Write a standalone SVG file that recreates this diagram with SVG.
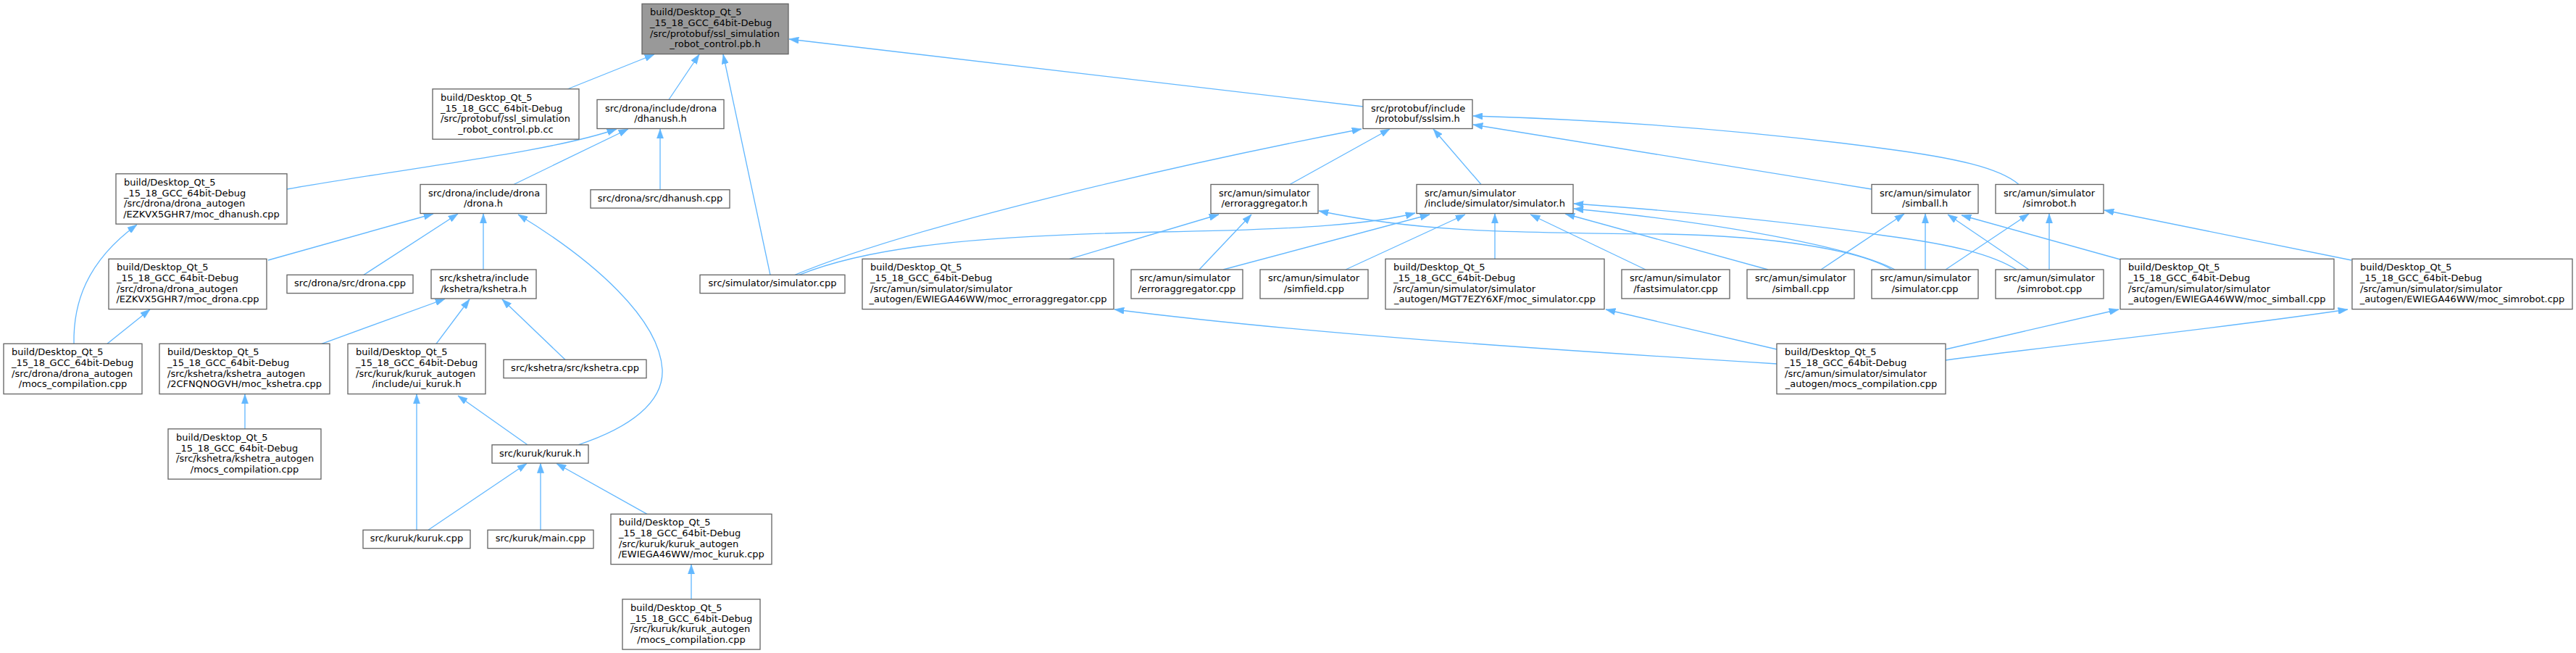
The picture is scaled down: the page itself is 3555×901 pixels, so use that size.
<svg xmlns="http://www.w3.org/2000/svg" width="3555" height="901" viewBox="0 0 3555 901">
<defs>
<style>
.n rect{fill:#ffffff;stroke:#666666;stroke-width:1.33}
.m rect{fill:#999999;stroke:#666666;stroke-width:1.33}
text{font-family:"DejaVu Sans","Liberation Sans",sans-serif;font-size:13px;fill:#000000}
.c{text-anchor:middle}
.e path{fill:none;stroke:#63b8ff;stroke-width:1.33;marker-end:url(#ah)}
</style>
<marker id="ah" markerUnits="userSpaceOnUse" viewBox="0 0 13.3 9.4" markerWidth="13.3" markerHeight="9.4" refX="13.3" refY="4.7" orient="auto">
<path d="M0,0 L13.3,4.7 L0,9.4 z" fill="#63b8ff" stroke="#63b8ff" stroke-width="0.5"/>
</marker>
</defs>
<rect x="0" y="0" width="3555" height="901" fill="#ffffff"/>

<g id="edges" class="e">
<path d="M783,123 L903,75"/>
<path d="M923,137.5 L965,75"/>
<path d="M1063,379.3 L998,75"/>
<path d="M1881,147 L1089,54"/>
<path d="M396,261 C560,232 760,210 851,178"/>
<path d="M709,254.5 L867,178"/>
<path d="M911,261.8 L911,178"/>
<path d="M370,359 L598,295"/>
<path d="M502,379.3 L632,295"/>
<path d="M667,372 L667,295"/>
<path d="M798,613.8 C870,590 916,555 914,510 C910,440 820,360 715,296"/>
<path d="M102,474.3 C101,420 118,362 189,310"/>
<path d="M148,474.3 L207,427"/>
<path d="M444,474.3 L614,412.5"/>
<path d="M602,474.3 L648,413"/>
<path d="M780,496.3 L693,413"/>
<path d="M338,591.8 L338,544"/>
<path d="M575,731.3 L575,544"/>
<path d="M728,613.8 L632,546"/>
<path d="M591,731.3 L727,639.5"/>
<path d="M746,731.3 L746,639.5"/>
<path d="M893,709.3 L768,639.5"/>
<path d="M954,826.8 L954,779"/>
<path d="M1097,379.3 C1250,315 1600,232 1879,178"/>
<path d="M1780,254.5 L1918,178"/>
<path d="M2044,254.5 L1978,178"/>
<path d="M2583,261 L2033,172"/>
<path d="M2786,254.5 C2760,232 2700,218 2600,205 C2400,178 2200,165 2033,160"/>
<path d="M1476,357.3 L1682,296"/>
<path d="M1655,372 L1727,296"/>
<path d="M2611,372 C2565,345 2450,326 2300,323 C2050,321 1950,318 1820,291"/>
<path d="M1103,379.3 C1200,340 1350,325 1600,320 C1800,317 1900,308 1953,294"/>
<path d="M1688,372 L1973,296"/>
<path d="M1857,372 L2022,296"/>
<path d="M2063,357.3 L2063,295"/>
<path d="M2271,372 L2112,296"/>
<path d="M2440,372 L2160,295"/>
<path d="M2615,372 C2565,345 2400,310 2172,288"/>
<path d="M2783,372 C2750,352 2700,338 2600,325 C2450,303 2300,290 2172,281"/>
<path d="M2452,502 C2100,480 1800,460 1538,427"/>
<path d="M2452,482 L2216,427"/>
<path d="M2685,482 L2924,427"/>
<path d="M2685,497 C2850,475 3050,455 3240,427"/>
<path d="M2513,372 L2628,295"/>
<path d="M2657,372 L2657,295"/>
<path d="M2800,372 L2688,296"/>
<path d="M2926,358 L2707,297"/>
<path d="M2685,372 L2800,295"/>
<path d="M2828,372 L2828,295"/>
<path d="M3245,359 L2904,290"/>
</g>

<g id="n_main" class="m"><rect x="886" y="5.3" width="202" height="69.3"/>
<text x="897" y="21.3">build/Desktop_Qt_5</text><text x="897" y="36">_15_18_GCC_64bit-Debug</text><text x="897" y="50.7">/src/protobuf/ssl_simulation</text><text class="c" x="987" y="65.3">_robot_control.pb.h</text></g>

<g id="n_pbcc" class="n"><rect x="597" y="122.8" width="202" height="69.3"/>
<text x="608" y="138.8">build/Desktop_Qt_5</text><text x="608" y="153.5">_15_18_GCC_64bit-Debug</text><text x="608" y="168.2">/src/protobuf/ssl_simulation</text><text class="c" x="698" y="182.8">_robot_control.pb.cc</text></g>

<g id="n_dhanush_h" class="n"><rect x="824" y="137.5" width="175" height="40"/>
<text x="835" y="153.5">src/drona/include/drona</text><text class="c" x="911.5" y="168.2">/dhanush.h</text></g>

<g id="n_sslsim_h" class="n"><rect x="1881" y="137.5" width="151" height="40"/>
<text x="1892" y="153.5">src/protobuf/include</text><text class="c" x="1956.5" y="168.2">/protobuf/sslsim.h</text></g>

<g id="n_moc_dhanush" class="n"><rect x="160" y="239.8" width="236" height="69.3"/>
<text x="171" y="255.8">build/Desktop_Qt_5</text><text x="171" y="270.5">_15_18_GCC_64bit-Debug</text><text x="171" y="285.2">/src/drona/drona_autogen</text><text class="c" x="278" y="299.8">/EZKVX5GHR7/moc_dhanush.cpp</text></g>

<g id="n_drona_h" class="n"><rect x="580" y="254.5" width="174" height="40"/>
<text x="591" y="270.5">src/drona/include/drona</text><text class="c" x="667" y="285.2">/drona.h</text></g>

<g id="n_dhanush_cpp" class="n"><rect x="815" y="261.8" width="192" height="25.3"/>
<text class="c" x="911" y="277.8">src/drona/src/dhanush.cpp</text></g>

<g id="n_erragg_h" class="n"><rect x="1671" y="254.5" width="148" height="40"/>
<text x="1682" y="270.5">src/amun/simulator</text><text class="c" x="1745" y="285.2">/erroraggregator.h</text></g>

<g id="n_simulator_h" class="n"><rect x="1955" y="254.5" width="216" height="40"/>
<text x="1966" y="270.5">src/amun/simulator</text><text class="c" x="2063" y="285.2">/include/simulator/simulator.h</text></g>

<g id="n_simball_h" class="n"><rect x="2583" y="254.5" width="147" height="40"/>
<text x="2594" y="270.5">src/amun/simulator</text><text class="c" x="2656.5" y="285.2">/simball.h</text></g>

<g id="n_simrobot_h" class="n"><rect x="2754" y="254.5" width="149" height="40"/>
<text x="2765" y="270.5">src/amun/simulator</text><text class="c" x="2828.5" y="285.2">/simrobot.h</text></g>

<g id="n_moc_drona" class="n"><rect x="150" y="357.3" width="218" height="69.3"/>
<text x="161" y="373.3">build/Desktop_Qt_5</text><text x="161" y="388">_15_18_GCC_64bit-Debug</text><text x="161" y="402.7">/src/drona/drona_autogen</text><text class="c" x="259" y="417.3">/EZKVX5GHR7/moc_drona.cpp</text></g>

<g id="n_drona_cpp" class="n"><rect x="396" y="379.3" width="174" height="25.3"/>
<text class="c" x="483" y="395.3">src/drona/src/drona.cpp</text></g>

<g id="n_kshetra_h" class="n"><rect x="595" y="372" width="145" height="40"/>
<text x="606" y="388">src/kshetra/include</text><text class="c" x="667.5" y="402.7">/kshetra/kshetra.h</text></g>

<g id="n_sim_cpp" class="n"><rect x="966" y="379.3" width="200" height="25.3"/>
<text class="c" x="1066" y="395.3">src/simulator/simulator.cpp</text></g>

<g id="n_moc_erragg" class="n"><rect x="1190" y="357.3" width="347" height="69.3"/>
<text x="1201" y="373.3">build/Desktop_Qt_5</text><text x="1201" y="388">_15_18_GCC_64bit-Debug</text><text x="1201" y="402.7">/src/amun/simulator/simulator</text><text class="c" x="1363.5" y="417.3">_autogen/EWIEGA46WW/moc_erroraggregator.cpp</text></g>

<g id="n_erragg_cpp" class="n"><rect x="1561" y="372" width="154" height="40"/>
<text x="1572" y="388">src/amun/simulator</text><text class="c" x="1638" y="402.7">/erroraggregator.cpp</text></g>

<g id="n_simfield" class="n"><rect x="1739" y="372" width="149" height="40"/>
<text x="1750" y="388">src/amun/simulator</text><text class="c" x="1813.5" y="402.7">/simfield.cpp</text></g>

<g id="n_moc_sim" class="n"><rect x="1912" y="357.3" width="302" height="69.3"/>
<text x="1923" y="373.3">build/Desktop_Qt_5</text><text x="1923" y="388">_15_18_GCC_64bit-Debug</text><text x="1923" y="402.7">/src/amun/simulator/simulator</text><text class="c" x="2063" y="417.3">_autogen/MGT7EZY6XF/moc_simulator.cpp</text></g>

<g id="n_fastsim" class="n"><rect x="2238" y="372" width="149" height="40"/>
<text x="2249" y="388">src/amun/simulator</text><text class="c" x="2312.5" y="402.7">/fastsimulator.cpp</text></g>

<g id="n_simball_cpp" class="n"><rect x="2411" y="372" width="148" height="40"/>
<text x="2422" y="388">src/amun/simulator</text><text class="c" x="2485" y="402.7">/simball.cpp</text></g>

<g id="n_amun_sim_cpp" class="n"><rect x="2583" y="372" width="147" height="40"/>
<text x="2594" y="388">src/amun/simulator</text><text class="c" x="2656.5" y="402.7">/simulator.cpp</text></g>

<g id="n_simrobot_cpp" class="n"><rect x="2754" y="372" width="149" height="40"/>
<text x="2765" y="388">src/amun/simulator</text><text class="c" x="2828.5" y="402.7">/simrobot.cpp</text></g>

<g id="n_moc_simball" class="n"><rect x="2926" y="357.3" width="295" height="69.3"/>
<text x="2937" y="373.3">build/Desktop_Qt_5</text><text x="2937" y="388">_15_18_GCC_64bit-Debug</text><text x="2937" y="402.7">/src/amun/simulator/simulator</text><text class="c" x="3073.5" y="417.3">_autogen/EWIEGA46WW/moc_simball.cpp</text></g>

<g id="n_moc_simrobot" class="n"><rect x="3246" y="357.3" width="304" height="69.3"/>
<text x="3257" y="373.3">build/Desktop_Qt_5</text><text x="3257" y="388">_15_18_GCC_64bit-Debug</text><text x="3257" y="402.7">/src/amun/simulator/simulator</text><text class="c" x="3398" y="417.3">_autogen/EWIEGA46WW/moc_simrobot.cpp</text></g>

<g id="n_drona_mocs" class="n"><rect x="5" y="474.3" width="191" height="69.3"/>
<text x="16" y="490.3">build/Desktop_Qt_5</text><text x="16" y="505">_15_18_GCC_64bit-Debug</text><text x="16" y="519.7">/src/drona/drona_autogen</text><text class="c" x="100.5" y="534.3">/mocs_compilation.cpp</text></g>

<g id="n_kshetra_moc" class="n"><rect x="220" y="474.3" width="235" height="69.3"/>
<text x="231" y="490.3">build/Desktop_Qt_5</text><text x="231" y="505">_15_18_GCC_64bit-Debug</text><text x="231" y="519.7">/src/kshetra/kshetra_autogen</text><text class="c" x="337.5" y="534.3">/2CFNQNOGVH/moc_kshetra.cpp</text></g>

<g id="n_ui_kuruk" class="n"><rect x="480" y="474.3" width="190" height="69.3"/>
<text x="491" y="490.3">build/Desktop_Qt_5</text><text x="491" y="505">_15_18_GCC_64bit-Debug</text><text x="491" y="519.7">/src/kuruk/kuruk_autogen</text><text class="c" x="575" y="534.3">/include/ui_kuruk.h</text></g>

<g id="n_kshetra_cpp" class="n"><rect x="695" y="496.3" width="197" height="25.3"/>
<text class="c" x="793.5" y="512.3">src/kshetra/src/kshetra.cpp</text></g>

<g id="n_sim_mocs" class="n"><rect x="2452" y="474.3" width="233" height="69.3"/>
<text x="2463" y="490.3">build/Desktop_Qt_5</text><text x="2463" y="505">_15_18_GCC_64bit-Debug</text><text x="2463" y="519.7">/src/amun/simulator/simulator</text><text class="c" x="2568.5" y="534.3">_autogen/mocs_compilation.cpp</text></g>

<g id="n_kshetra_mocs" class="n"><rect x="232" y="591.8" width="211" height="69.3"/>
<text x="243" y="607.8">build/Desktop_Qt_5</text><text x="243" y="622.5">_15_18_GCC_64bit-Debug</text><text x="243" y="637.2">/src/kshetra/kshetra_autogen</text><text class="c" x="337.5" y="651.8">/mocs_compilation.cpp</text></g>

<g id="n_kuruk_h" class="n"><rect x="679" y="613.8" width="133" height="25.3"/>
<text class="c" x="745.5" y="629.8">src/kuruk/kuruk.h</text></g>

<g id="n_kuruk_cpp" class="n"><rect x="501" y="731.3" width="148" height="25.3"/>
<text class="c" x="575" y="747.3">src/kuruk/kuruk.cpp</text></g>

<g id="n_main_cpp" class="n"><rect x="673" y="731.3" width="146" height="25.3"/>
<text class="c" x="746" y="747.3">src/kuruk/main.cpp</text></g>

<g id="n_moc_kuruk" class="n"><rect x="843" y="709.3" width="222" height="69.3"/>
<text x="854" y="725.3">build/Desktop_Qt_5</text><text x="854" y="740">_15_18_GCC_64bit-Debug</text><text x="854" y="754.7">/src/kuruk/kuruk_autogen</text><text class="c" x="954" y="769.3">/EWIEGA46WW/moc_kuruk.cpp</text></g>

<g id="n_kuruk_mocs" class="n"><rect x="859" y="826.8" width="190" height="69.3"/>
<text x="870" y="842.8">build/Desktop_Qt_5</text><text x="870" y="857.5">_15_18_GCC_64bit-Debug</text><text x="870" y="872.2">/src/kuruk/kuruk_autogen</text><text class="c" x="954" y="886.8">/mocs_compilation.cpp</text></g>
</svg>
